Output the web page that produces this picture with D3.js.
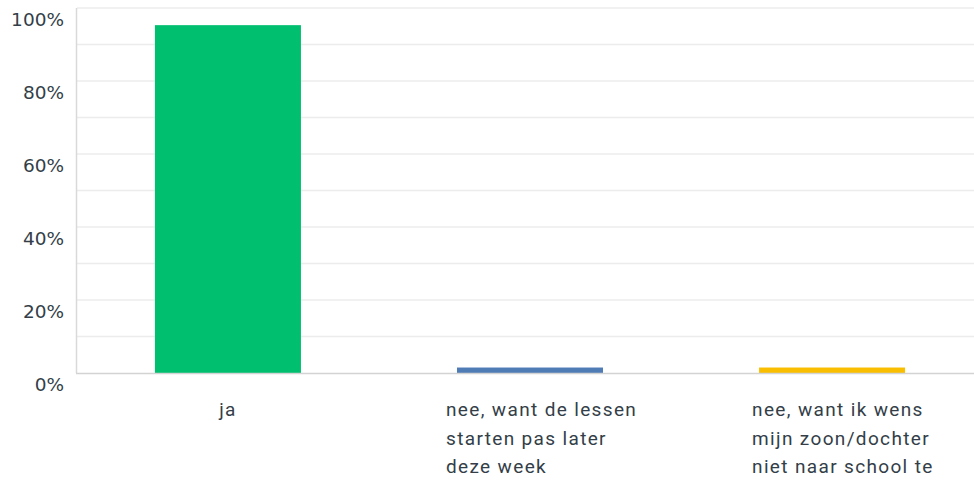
<!DOCTYPE html>
<html>
<head>
<meta charset="UTF-8">
<style>
  body { margin: 0; background: #fff; }
  .ytick { font-family: "DejaVu Sans", sans-serif; font-size: 18.5px; fill: #333e48; }
  .xlab { font-family: "Roboto", sans-serif; font-size: 19px; letter-spacing: 1.35px; fill: #333e48; }
</style>
</head>
<body>
<svg></svg>
<script src="https://d3js.org/d3.v7.min.js"></script>
<script>
// answers + share of respondents
let categories = ["ja", "nee, want de lessen starten pas later deze week", "nee, want ik wens mijn zoon/dochter niet naar school te"];
let labelLines = [["ja"], ["nee, want de lessen", "starten pas later", "deze week"], ["nee, want ik wens", "mijn zoon/dochter", "niet naar school te"]];
let values = [95.3, 1.5, 1.5];
let barColors = ["#00bf6f", "#507cb6", "#f9be00"];
let yTicks = [0, 20, 40, 60, 80, 100];
let gridTicks = [10, 20, 30, 40, 50, 60, 70, 80, 90, 100];

let width = 974, height = 485;
let mLeft = 77, mTop = 8, mBottom = 373;

let svg = d3.select("svg")
    .attr("width", width)
    .attr("height", height);

let x = d3.scaleBand()
    .domain(categories)
    .range([mLeft, mLeft + 906])
    .paddingInner(0.5166)
    .paddingOuter(0.258);

let y = d3.scaleLinear()
    .domain([0, 100])
    .range([mBottom, mTop]);

// gridlines
svg.append("g")
  .selectAll("line")
  .data(gridTicks)
  .enter()
  .append("line")
    .attr("x1", mLeft)
    .attr("x2", width)
    .attr("y1", d => y(d))
    .attr("y2", d => y(d))
    .attr("stroke", "#ececec")
    .attr("stroke-width", 1.5);

// left axis line
svg.append("line")
    .attr("x1", mLeft - 0.5).attr("x2", mLeft - 0.5)
    .attr("y1", mTop).attr("y2", mBottom)
    .attr("stroke", "#d9d9d9")
    .attr("stroke-width", 1.5);

// bars
svg.append("g")
  .selectAll("rect")
  .data(values)
  .enter()
  .append("rect")
    .attr("x", (d, i) => x(categories[i]))
    .attr("width", x.bandwidth())
    .attr("y", d => y(d))
    .attr("height", d => y(0) - y(d))
    .attr("fill", (d, i) => barColors[i]);

// baseline
svg.append("line")
    .attr("x1", mLeft - 1).attr("x2", width)
    .attr("y1", mBottom + 0.5).attr("y2", mBottom + 0.5)
    .attr("stroke", "#d3d3d3")
    .attr("stroke-width", 1.5);

// y labels (sit a bit below their line)
svg.append("g")
  .selectAll("text")
  .data(yTicks)
  .enter()
  .append("text")
    .attr("class", "ytick")
    .attr("x", 64)
    .attr("y", d => y(d) + 18)
    .attr("text-anchor", "end")
    .text(d => d + "%");

// x labels
let xl = svg.append("g")
  .selectAll("text")
  .data(categories)
  .enter()
  .append("text")
    .attr("class", "xlab")
    .attr("text-anchor", (d, i) => labelLines[i].length > 1 ? "start" : "middle")
    .attr("x", (d, i) => labelLines[i].length > 1 ? x(d) + x.bandwidth() / 2 - 84 + (i - 1) * 4 : x(d) + x.bandwidth() / 2)
    .attr("y", 416);

xl.each(function(d, i) {
  let t = d3.select(this);
  labelLines[i].forEach((line, j) => {
    t.append("tspan")
      .attr("x", t.attr("x"))
      .attr("dy", j == 0 ? 0 : 28.5)
      .text(line);
  });
});
</script>
</body>
</html>
